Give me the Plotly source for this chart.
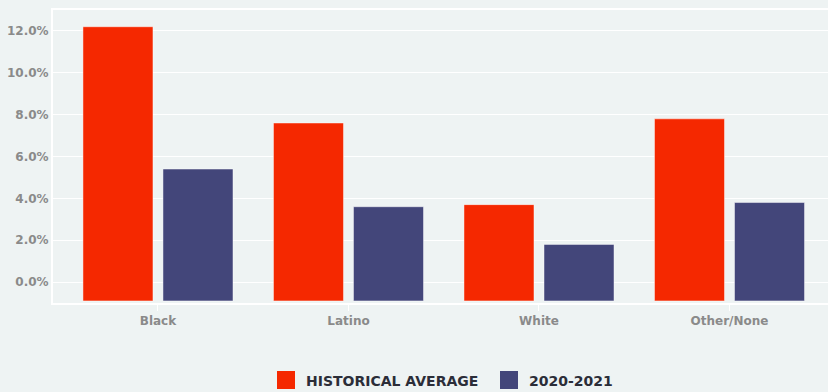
import plotly.graph_objects as go

categories = ["Black", "Latino", "White", "Other/None"]
historical = [12.2, 7.6, 3.7, 7.8]
recent = [5.4, 3.6, 1.8, 3.8]
series_names = ["HISTORICAL AVERAGE", "2020-2021"]
y_ticks = [0, 2, 4, 6, 8, 10, 12]
y_tick_labels = ["0.0%", "2.0%", "4.0%", "6.0%", "8.0%", "10.0%", "12.0%"]

RED = "#f52800"
BLUE = "#43467a"
BG = "#eef3f3"
BASE = -0.9
TICK_FONT = dict(family="DejaVu Sans", size=12, color="#8a8a8a", weight=700)

fig = go.Figure()
for name, vals, col in [(series_names[0], historical, RED), (series_names[1], recent, BLUE)]:
    fig.add_trace(go.Bar(
        x=categories, y=[v - BASE for v in vals], base=BASE, name=name,
        marker=dict(color=col, line=dict(color="rgba(255,255,255,0.45)", width=1)),
        showlegend=False, hoverinfo="skip"))

W, H = 828, 392
L, R, T, B = 53, 0, 10, 89
pw, ph = W - L - R, H - T - B

def px(x):
    return (x - L) / pw

def py(y):
    return (H - B - y) / ph

shapes = []
annotations = []
for (x0, tx), name, col in [((277, 304), series_names[0], RED), ((500, 527), series_names[1], BLUE)]:
    shapes.append(dict(type="rect", xref="paper", yref="paper",
                       x0=px(x0), x1=px(x0 + 18), y0=py(371), y1=py(389),
                       fillcolor=col, line=dict(width=0)))
    annotations.append(dict(xref="paper", yref="paper", x=px(tx), y=py(380.5),
                            xanchor="left", yanchor="middle", showarrow=False,
                            text=name,
                            font=dict(family="DejaVu Sans", size=14, color="#2b2d38", weight=700)))

fig.update_layout(
    width=W, height=H,
    margin=dict(l=L, r=R, t=T, b=B),
    paper_bgcolor=BG, plot_bgcolor=BG,
    barmode="group", bargap=0.16, bargroupgap=0.125,
    shapes=shapes, annotations=annotations,
    xaxis=dict(range=[-0.551, 3.517], showgrid=False, showline=True, linecolor="white",
               linewidth=2, mirror=True, ticks="outside", tickcolor="white", ticklen=6,
               tickwidth=1, zeroline=False, tickfont=TICK_FONT),
    yaxis=dict(range=[-1, 13], tickvals=y_ticks, ticktext=y_tick_labels,
               showgrid=True, gridcolor="white", gridwidth=1, zeroline=False,
               showline=True, linecolor="white", linewidth=2, ticks="",
               ticklabelstandoff=0, tickfont=TICK_FONT),
    font=dict(family="DejaVu Sans"),
)

fig.write_html("out.html", config={"displayModeBar": False},
               post_script="document.body.style.margin='0';document.body.style.overflow='hidden';document.body.style.background='" + BG + "';")
